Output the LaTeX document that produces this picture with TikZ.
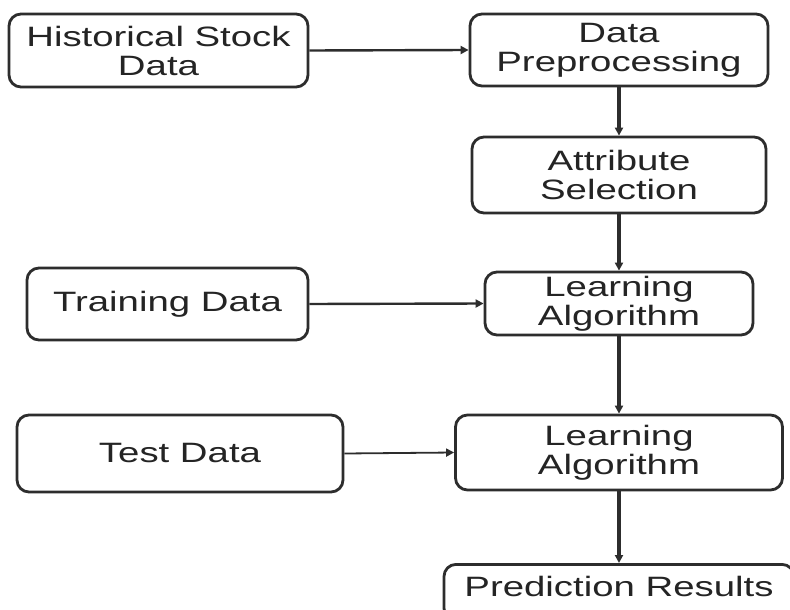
\documentclass[tikz,border=0pt]{standalone}
\usepackage{fontspec}
\setmainfont{Liberation Sans}[FakeStretch=1.37]
\usetikzlibrary{arrows.meta}
\definecolor{edge}{RGB}{45,45,45}
\definecolor{ink}{RGB}{36,36,36}
\tikzset{
  stagebox/.style={draw=edge, line width=2.8pt, rounded corners=12pt,
    align=center, inner sep=0pt, text=ink,
    font=\fontsize{28}{29}\selectfont},
  flow/.style={draw=edge, -{Triangle[length=8pt,width=8pt]}},
}
\begin{document}
\begin{tikzpicture}[x=1pt,y=-1pt]
  \useasboundingbox[fill=white] (0,0) rectangle (790,610);

  % left column: data sources
  \node[stagebox, minimum width=299pt, minimum height=73pt] (hist) at (158.5,50.5) {Historical Stock\\Data};
  \node[stagebox, minimum width=281pt, minimum height=72pt] (train) at (167.5,304) {Training Data};
  \node[stagebox, minimum width=326pt, minimum height=77pt] (test) at (180,453.5) {Test Data};

  % right column: processing pipeline
  \node[stagebox, minimum width=298pt, minimum height=72pt] (prep) at (619,50) {Data\\Preprocessing};
  \node[stagebox, minimum width=294pt, minimum height=76pt] (attr) at (619,175) {Attribute\\Selection};
  \node[stagebox, minimum width=268pt, minimum height=63pt] (learnA) at (619,303.5) {Learning\\Algorithm};
  \node[stagebox, minimum width=327pt, minimum height=75pt] (learnB) at (619,452.5) {Learning\\Algorithm};
  \node[stagebox, minimum width=350pt, minimum height=56pt, text height=20pt, text depth=11pt,
        anchor=north] (res) at (619,563) {Prediction Results};

  % connectors
  \draw[flow, line width=2.4pt] (hist.east) -- (prep.west);
  \draw[flow, line width=3.4pt] (prep.south) -- (attr.north);
  \draw[flow, line width=3.4pt] (attr.south) -- (learnA.north);
  \draw[flow, line width=2.4pt] (train.east) -- (learnA.west);
  \draw[flow, line width=3.4pt] (learnA.south) -- (learnB.north);
  \draw[flow, line width=1.8pt] (test.east) -- (learnB.west);
  \draw[flow, line width=3.4pt] (learnB.south) -- (res.north);
\end{tikzpicture}
\end{document}
